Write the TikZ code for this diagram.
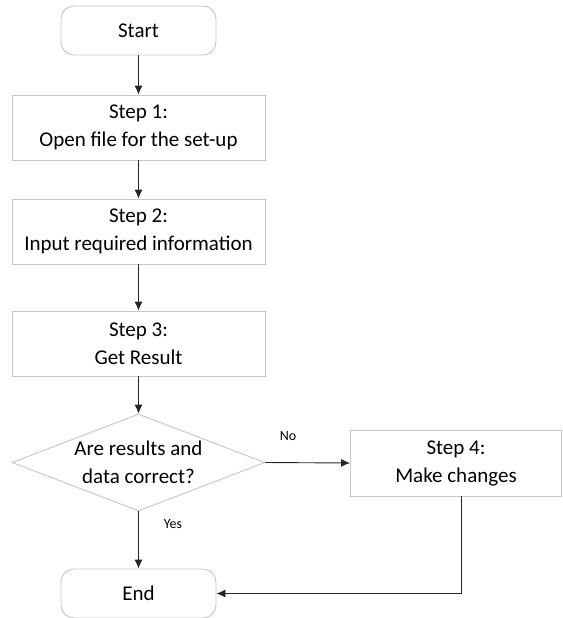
\documentclass[tikz,border=0pt]{standalone}
\usepackage{fontspec}
\setmainfont{Carlito}
\usetikzlibrary{arrows,arrows.meta,shapes,positioning}

\begin{document}
\begin{tikzpicture}[x=1pt,y=-1pt,
    box/.style={draw=gray!45, line width=0.9pt, rectangle, align=center,
      minimum width=253pt, minimum height=65pt, font=\fontsize{21}{28}\selectfont},
    term/.style={box, rounded corners=13pt, minimum width=155pt, minimum height=49pt},
    decide/.style={draw=gray!45, line width=0.9pt, diamond, inner sep=0pt,
      minimum width=253pt, minimum height=97pt},
    flow/.style={-{Latex[length=9pt,width=8pt]}, draw=black!85, line width=0.9pt},
    small/.style={font=\fontsize{14}{16}\selectfont}]
    \useasboundingbox (0,0) rectangle (562,618);
    % main column
    \node[term] (start) at (138.5,30.5) {Start};
    \node[box] (s1) at (138.5,127.5) {Step 1:\\Open file for the set-up};
    \node[box] (s2) at (138.5,231.5) {Step 2:\\Input required information};
    \node[box] (s3) at (138.5,343.5) {Step 3:\\Get Result};
    \node[decide] (chk) at (138.5,462.5) {};
    \node[align=center, font=\fontsize{21}{28}\selectfont] (chktxt) at (chk) {Are results and\\data correct?};
    \node[term] (end) at (138.5,593.5) {End};
    % side branch
    \node[box, minimum width=211pt, minimum height=66pt] (s4) at (456,463) {Step 4:\\Make changes};
    \node[small] (no) at (288,436) {No};
    \node[small] (yes) at (173,524) {Yes};
    \coordinate (bend) at (461.5,593.5);

    \draw[flow] (start) -- (s1);
    \draw[flow] (s1) -- (s2);
    \draw[flow] (s2) -- (s3);
    \draw[flow] (s3) -- (chk);
    \draw[flow] (chk) -- (end);
    \draw[flow] (chk.east) -- (s4.west);
    \draw[flow] (s4.south -| bend) -- (bend) -- (end.east);
\end{tikzpicture}
\end{document}
